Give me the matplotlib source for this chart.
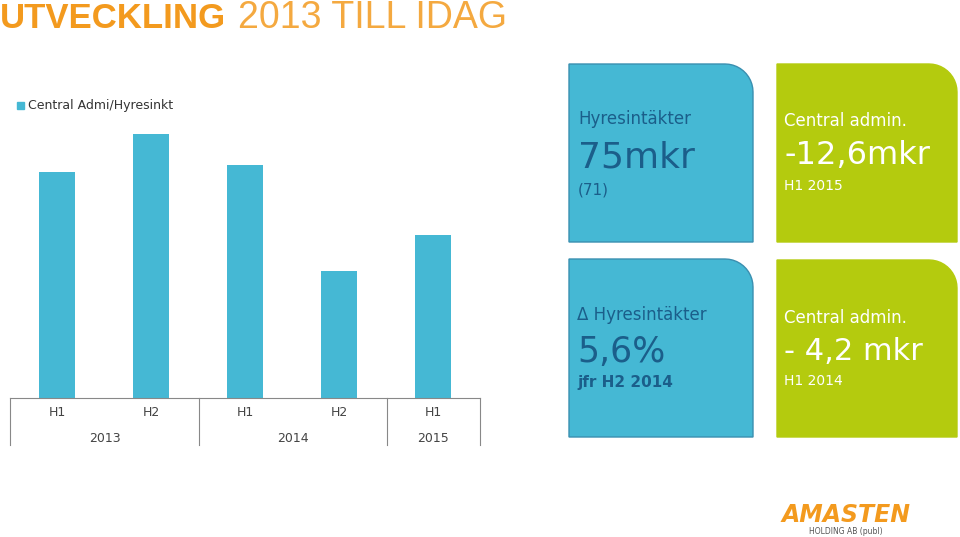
import matplotlib
matplotlib.use("Agg")
import matplotlib.pyplot as plt
import numpy as np
from matplotlib.patches import Polygon, Rectangle

categories = ["H1", "H2", "H1", "H2", "H1"]
years = ["2013", "2014", "2015"]
values = [226, 264, 233, 127, 163]
series_name = "Central Admi/Hyresinkt"

W, H = 960, 537
fig = plt.figure(figsize=(9.6, 5.37), dpi=100)
fig.patch.set_facecolor("white")

def fx(x): return x / W
def fy(y): return 1 - y / H

BLUE = "#45B8D4"
GREEN = "#B4CB0E"
ORANGE = "#F39A1E"
DARK = "#1B5E8A"

# title
fig.text(fx(0), fy(18), "UTVECKLING", color=ORANGE, fontsize=25, fontweight="bold", va="center", family="Liberation Sans")
fig.text(fx(238), fy(18), "2013 TILL IDAG", color=ORANGE, fontsize=27, va="center", family="Liberation Sans", alpha=0.85)

# bar chart
ax = fig.add_axes([fx(10), fy(398), fx(470), fy(100) - fy(398)])
x = range(len(values))
ax.bar(x, values, width=0.39, color=BLUE)
ax.set_xlim(-0.5, len(values) - 0.5)
ax.set_ylim(0, 298)
for s in ["top", "right", "left"]:
    ax.spines[s].set_visible(False)
ax.spines["bottom"].set_color("#888888")
ax.set_yticks([])
ax.set_xticks([])
for i, c in enumerate(categories):
    fig.text(fx(10 + 94 * i + 47), fy(413), c, ha="center", va="center", fontsize=9, color="#444444")
for xpos, yr in zip([105, 293, 433], years):
    fig.text(fx(xpos), fy(438), yr, ha="center", va="center", fontsize=9, color="#444444")
for xv in [10, 199, 387, 480]:
    fig.add_artist(plt.Line2D([fx(xv), fx(xv)], [fy(398), fy(445)], color="#888888", lw=0.8))
# legend
fig.add_artist(Rectangle((fx(17), fy(109)), fx(7), fy(102) - fy(109), color=BLUE))
fig.text(fx(28), fy(105), series_name, fontsize=9, va="center", color="#333333")

def card(x0, y0, x1, y1, color, edge=None):
    r = 28
    pts = [(x0, y0), (x1 - r, y0)]
    for t in np.linspace(np.pi / 2, 0, 12):
        pts.append((x1 - r + r * np.cos(t), y0 + r - r * np.sin(t)))
    pts += [(x1, y1), (x0, y1)]
    poly = Polygon([(fx(a), fy(b)) for a, b in pts], closed=True, facecolor=color,
                   edgecolor=edge or color, lw=1, transform=fig.transFigure)
    fig.add_artist(poly)

card(569, 64, 753, 242, BLUE, "#3a8fb0")
card(569, 259, 753, 437, BLUE, "#3a8fb0")
card(777, 64, 957, 242, GREEN)
card(777, 260, 957, 437, GREEN)

fig.text(fx(578), fy(119), "Hyresintäkter", fontsize=12, color=DARK, va="center")
fig.text(fx(578), fy(157), "75mkr", fontsize=26, color=DARK, va="center")
fig.text(fx(578), fy(190), "(71)", fontsize=11, color=DARK, va="center")

fig.text(fx(577), fy(315), "Δ Hyresintäkter", fontsize=12, color=DARK, va="center")
fig.text(fx(577), fy(352), "5,6%", fontsize=25, color=DARK, va="center")
fig.text(fx(577), fy(383), "jfr H2 2014", fontsize=11, color=DARK, va="center", fontweight="bold")

fig.text(fx(784), fy(121), "Central admin.", fontsize=12, color="white", va="center")
fig.text(fx(784), fy(156), "-12,6mkr", fontsize=23, color="white", va="center")
fig.text(fx(784), fy(186), "H1 2015", fontsize=10, color="white", va="center")

fig.text(fx(784), fy(318), "Central admin.", fontsize=12, color="white", va="center")
fig.text(fx(784), fy(352), "- 4,2 mkr", fontsize=22, color="white", va="center")
fig.text(fx(784), fy(381), "H1 2014", fontsize=10, color="white", va="center")

# logo
fig.text(fx(846), fy(515), "AMASTEN", fontsize=17, color=ORANGE, fontweight="bold", ha="center", va="center", style="italic")
fig.text(fx(846), fy(532), "HOLDING AB (publ)", fontsize=5.5, color="#555555", ha="center", va="center")

fig.savefig("out.png", dpi=100)
